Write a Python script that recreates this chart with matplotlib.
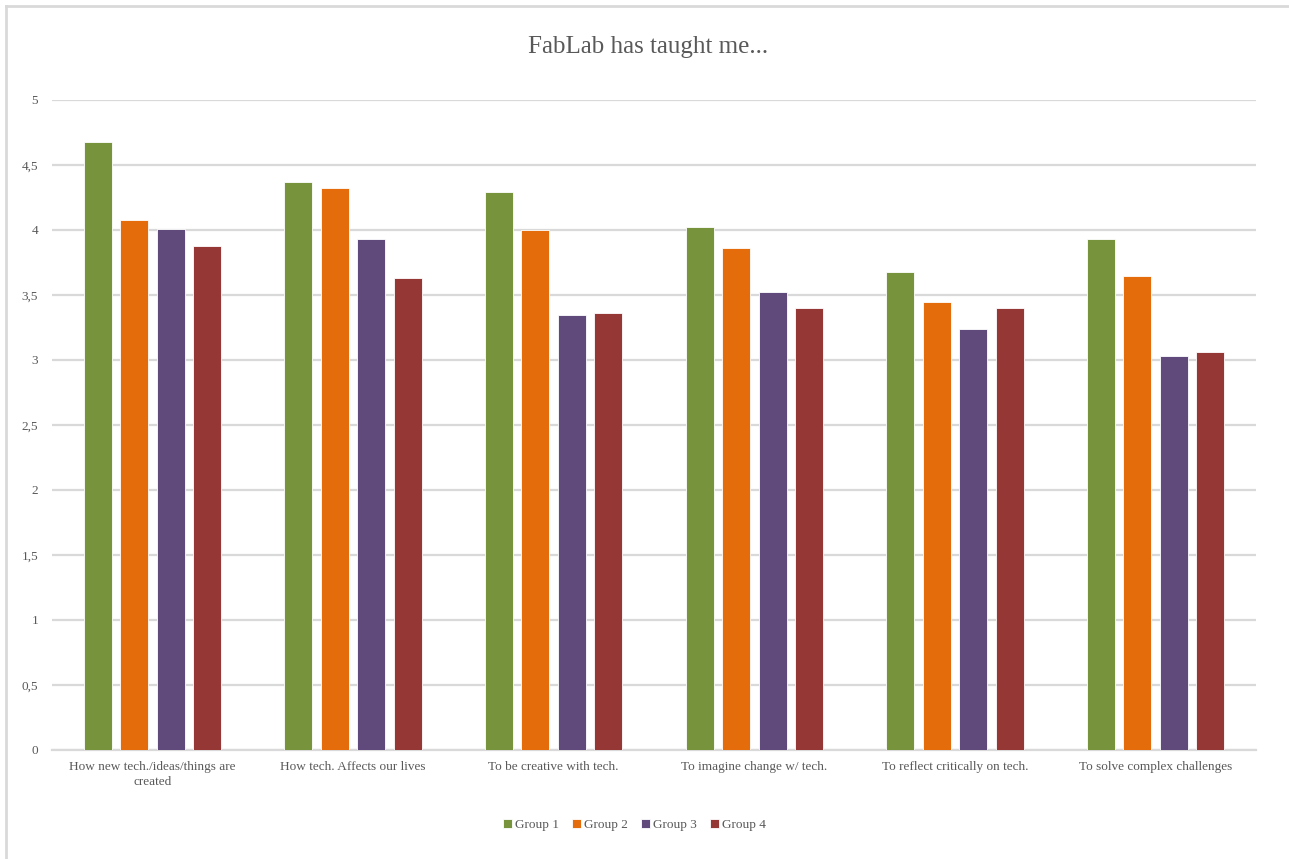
import matplotlib
matplotlib.use("Agg")
import matplotlib.pyplot as plt
from matplotlib.lines import Line2D
import numpy as np

categories = [
    "How new tech./ideas/things are\ncreated",
    "How tech. Affects our lives",
    "To be creative with tech.",
    "To imagine change w/ tech.",
    "To reflect critically on tech.",
    "To solve complex challenges",
]
groups = ["Group 1", "Group 2", "Group 3", "Group 4"]
group1 = [4.68, 4.37, 4.29, 4.02, 3.68, 3.93]
group2 = [4.08, 4.32, 4.00, 3.86, 3.45, 3.65]
group3 = [4.01, 3.93, 3.35, 3.52, 3.24, 3.03]
group4 = [3.88, 3.63, 3.36, 3.40, 3.40, 3.06]
yticks = [0, 0.5, 1, 1.5, 2, 2.5, 3, 3.5, 4, 4.5, 5]
ytick_labels = ["0", "0,5", "1", "1,5", "2", "2,5", "3", "3,5", "4", "4,5", "5"]

colors = ["#77933C", "#E46C0A", "#604A7B", "#953735"]
text_color = "#595959"
grid_color = "#D9D9D9"
font = ["Liberation Serif", "DejaVu Serif"]

plt.rcParams["font.family"] = font

W, H = 1289, 859
fig = plt.figure(figsize=(W / 100, H / 100), dpi=100)
ax = fig.add_axes([52 / W, 1 - 750 / H, (1256 - 52) / W, (750 - 100) / H])

# chart frame (top and left edges)
fig.add_artist(Line2D([6 / W, 6 / W], [0, 1 - 6 / H], transform=fig.transFigure,
                      color=grid_color, lw=2))
fig.add_artist(Line2D([6 / W, 1], [1 - 6 / H, 1 - 6 / H], transform=fig.transFigure,
                      color=grid_color, lw=2))

x = np.arange(len(categories))
step = 0.182
width = 0.14
series = [group1, group2, group3, group4]
for j, (vals, name, c) in enumerate(zip(series, groups, colors)):
    ax.bar(x + (j - 1.5) * step, vals, width, color=c, label=name,
           edgecolor="white", linewidth=0.6, zorder=3)

ax.set_xlim(-0.5, len(categories) - 0.5)
ax.set_ylim(0, 5)
ax.set_yticks(yticks)
ax.set_yticklabels(ytick_labels)
ax.set_xticks(x)
ax.set_xticklabels(categories, linespacing=1.3)
ax.yaxis.grid(True, color=grid_color, lw=1.6, zorder=0)
ax.set_axisbelow(True)
for s in ["top", "right", "left"]:
    ax.spines[s].set_visible(False)
ax.spines["bottom"].set_color(grid_color)
ax.spines["bottom"].set_linewidth(1.6)
ax.tick_params(axis="both", length=0, colors=text_color, labelsize=9.5)
ax.tick_params(axis="y", pad=10)
ax.tick_params(axis="x", pad=8)

fig.text(0.503, 1 - 47 / H, "FabLab has taught me...", ha="center", va="center",
         fontsize=18, color=text_color)

leg = fig.legend(loc="center", bbox_to_anchor=(0.492, 1 - 825 / H), ncol=4,
                 frameon=False, fontsize=9.5, handlelength=0.7, handleheight=0.7,
                 handletextpad=0.2, columnspacing=1.0)
for t in leg.get_texts():
    t.set_color(text_color)

fig.savefig("out.png", dpi=100, facecolor="white")
